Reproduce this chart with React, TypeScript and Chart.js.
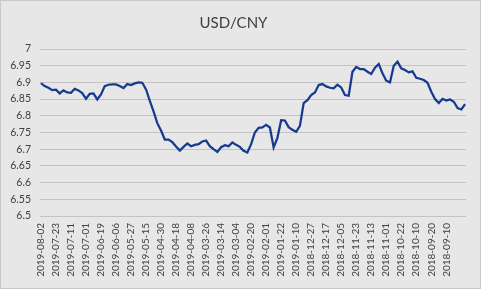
import React, { useEffect, useRef } from "react";
import { Chart, registerables } from "chart.js";

Chart.register(...registerables);

// Tick labels on the category axis (every 8th trading day, newest first)
const TICK_LABELS: string[] = [
  "2019-08-02", "2019-07-23", "2019-07-11", "2019-07-01", "2019-06-19",
  "2019-06-06", "2019-05-27", "2019-05-15", "2019-04-30", "2019-04-18",
  "2019-04-08", "2019-03-26", "2019-03-14", "2019-03-04", "2019-02-20",
  "2019-02-01", "2019-01-22", "2019-01-10", "2018-12-27", "2018-12-17",
  "2018-12-05", "2018-11-23", "2018-11-13", "2018-11-01", "2018-10-22",
  "2018-10-10", "2018-09-20", "2018-09-10",
];
const LABEL_EVERY = 8; // trading days between labels
const SAMPLE_EVERY = 2; // trading days between sampled values
const TOTAL_DAYS = 227;

// USD/CNY, sampled every 2nd trading day, newest first
const USD_CNY: number[] = [
  6.898, 6.889, 6.884, 6.877, 6.878, 6.867, 6.876, 6.870, 6.869, 6.881,
  6.876, 6.868, 6.851, 6.866, 6.867, 6.849, 6.864, 6.889, 6.893, 6.894,
  6.894, 6.889, 6.883, 6.895, 6.892, 6.897, 6.900, 6.899, 6.879, 6.845,
  6.813, 6.778, 6.756, 6.729, 6.729, 6.721, 6.708, 6.696, 6.707, 6.717,
  6.709, 6.713, 6.715, 6.723, 6.726, 6.709, 6.700, 6.692, 6.706, 6.712,
  6.709, 6.720, 6.713, 6.707, 6.695, 6.690, 6.715, 6.750, 6.764, 6.765,
  6.773, 6.765, 6.705, 6.734, 6.787, 6.786, 6.766, 6.758, 6.752, 6.770,
  6.838, 6.847, 6.862, 6.870, 6.892, 6.895, 6.888, 6.884, 6.882, 6.893,
  6.885, 6.862, 6.860, 6.932, 6.946, 6.940, 6.940, 6.932, 6.925, 6.944,
  6.955, 6.927, 6.905, 6.900, 6.950, 6.962, 6.942, 6.937, 6.930, 6.933,
  6.914, 6.911, 6.907, 6.899, 6.872, 6.850, 6.838, 6.851, 6.846, 6.849,
  6.842, 6.823, 6.819, 6.835,
];

const Y_MIN = 6.5;
const Y_MAX = 7;
const Y_STEP = 0.05;

const FONT = "Lato, 'Open Sans', sans-serif";

export default function App() {
  const ref = useRef<HTMLCanvasElement | null>(null);

  useEffect(() => {
    if (!ref.current) return;
    const points = USD_CNY.map((v, i) => ({ x: i * SAMPLE_EVERY, y: v }));
    const chart = new Chart(ref.current, {
      type: "line",
      data: {
        datasets: [
          {
            label: "USD/CNY",
            data: points,
            borderColor: "#163b8e",
            borderWidth: 2.25,
            pointRadius: 0,
            tension: 0,
            fill: false,
          },
        ],
      },
      options: {
        animation: false,
        responsive: false,
        maintainAspectRatio: false,
        layout: { padding: { left: 0, right: 14, top: 0, bottom: 0 } },
        plugins: {
          legend: { display: false },
          tooltip: { enabled: false },
          title: {
            display: true,
            text: "USD/CNY",
            color: "#404040",
            font: { family: FONT, size: 15, weight: "normal" },
            padding: { top: 13, bottom: 17 },
          },
        },
        scales: {
          x: {
            type: "linear",
            min: -0.5,
            max: TOTAL_DAYS - 0.5,
            afterBuildTicks: (scale: any) => {
              scale.ticks = TICK_LABELS.map((_, k) => ({ value: k * LABEL_EVERY }));
            },
            afterFit: (scale: any) => {
              scale.height = 72;
            },
            grid: { display: false, drawTicks: false },
            border: { display: false },
            ticks: {
              autoSkip: false,
              maxRotation: 90,
              minRotation: 90,
              padding: 7,
              color: "#404040",
              font: { family: FONT, size: 10 },
              callback: (v: any) => TICK_LABELS[Math.round(Number(v) / LABEL_EVERY)] ?? "",
            },
          },
          y: {
            min: Y_MIN,
            max: Y_MAX,
            afterFit: (scale: any) => {
              scale.width = 39;
            },
            grid: { color: "#c3c3c3", lineWidth: 1, drawTicks: false },
            border: { display: false },
            ticks: {
              stepSize: Y_STEP,
              padding: 9,
              color: "#404040",
              font: { family: FONT, size: 10.5 },
              callback: (v: any) => String(Number(Number(v).toFixed(2))),
            },
          },
        },
      },
    });
    return () => chart.destroy();
  }, []);

  return (
    <div
      style={{
        position: "fixed",
        left: 0,
        top: 0,
        width: 481,
        height: 289,
        boxSizing: "border-box",
        border: "1px solid #c8c8c8",
        background: "#e7e7e7",
      }}
    >
      <canvas ref={ref} width={479} height={287} style={{ display: "block" }} />
    </div>
  );
}
